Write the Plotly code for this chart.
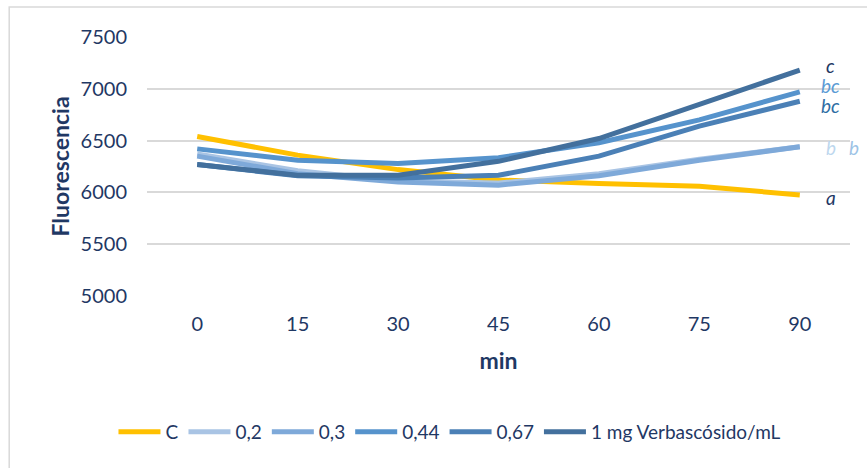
import plotly.graph_objects as go

minutes = [0, 15, 30, 45, 60, 75, 90]
series_names = ["C", "0,2", "0,3", "0,44", "0,67", "1 mg Verbascósido/mL"]
c_vals = [6540, 6360, 6220, 6120, 6085, 6060, 5975]
v02 = [6370, 6210, 6110, 6090, 6180, 6320, 6440]
v03 = [6350, 6180, 6100, 6070, 6160, 6310, 6440]
v044 = [6420, 6310, 6280, 6335, 6480, 6700, 6970]
v067 = [6270, 6160, 6140, 6165, 6350, 6640, 6880]
v1 = [6270, 6165, 6165, 6300, 6520, 6850, 7180]
y_ticks = [5000, 5500, 6000, 6500, 7000, 7500]

# significance letters at the 90-min end
sig_letters = ["c", "bc", "bc", "b", "b", "a"]
sig_y = [7225, 7030, 6835, 6430, 6430, 5955]

colors = ["#FFC000", "#A9C4E4", "#7EA9D9", "#5693CC", "#4B80B6", "#43709D"]
letter_colors = ["#1F3864", "#5B9BD5", "#2E6DA4", "#BDD7EE", "#9DC3E6", "#1F3864"]
letter_shift = [31, 31, 31, 31, 54, 31]

navy = "#1F3864"
font = "Lato"

fig = go.Figure()
for name, vals, col in zip(series_names, [c_vals, v02, v03, v044, v067, v1], colors):
    fig.add_trace(go.Scatter(x=minutes, y=vals, name=name, mode="lines",
                             line=dict(color=col, width=5)))

for txt, yv, col, sh in zip(sig_letters, sig_y, letter_colors, letter_shift):
    fig.add_annotation(x=minutes[-1], y=yv, xref="x", yref="y", text="<i>%s</i>" % txt,
                       showarrow=False, xshift=sh, font=dict(family=font, size=19, color=col))

# chart frame
fig.add_shape(type="rect", xref="paper", yref="paper", x0=-0.196, x1=1.2, y0=-1.0, y1=1.116,
              line=dict(color="#D9D9D9", width=1.5), fillcolor="rgba(0,0,0,0)", layer="below")

fig.update_layout(
    width=867, height=468,
    margin=dict(l=147, r=17, t=37, b=172),
    paper_bgcolor="white", plot_bgcolor="white",
    font=dict(family=font, size=20, color=navy),
    xaxis=dict(range=[-7.5, 97.5], tickvals=minutes, ticktext=[str(m) for m in minutes],
               showgrid=False, zeroline=False, showline=False, ticks="outside", ticklen=10,
               tickcolor="rgba(0,0,0,0)", automargin=False,
               title=dict(text="<b>min</b>", font=dict(size=23, color=navy), standoff=18)),
    yaxis=dict(range=[5000, 7500], tickvals=y_ticks, showgrid=True, gridcolor="#D9D9D9",
               gridwidth=1.5, zeroline=False, showline=False, ticks="outside", ticklen=15,
               tickcolor="rgba(0,0,0,0)", automargin=False,
               title=dict(text="<b>Fluorescencia</b>", font=dict(size=23, color=navy), standoff=4)),
    legend=dict(orientation="h", xref="container", yref="container", x=0.519, xanchor="center",
                y=0.077, yanchor="middle", font=dict(size=19, color=navy), itemwidth=42,
                tracegroupgap=0),
    showlegend=True,
)

fig.write_html("out.html", config={"displayModeBar": False},
               post_script="document.body.style.margin='0';document.body.style.padding='0';")
